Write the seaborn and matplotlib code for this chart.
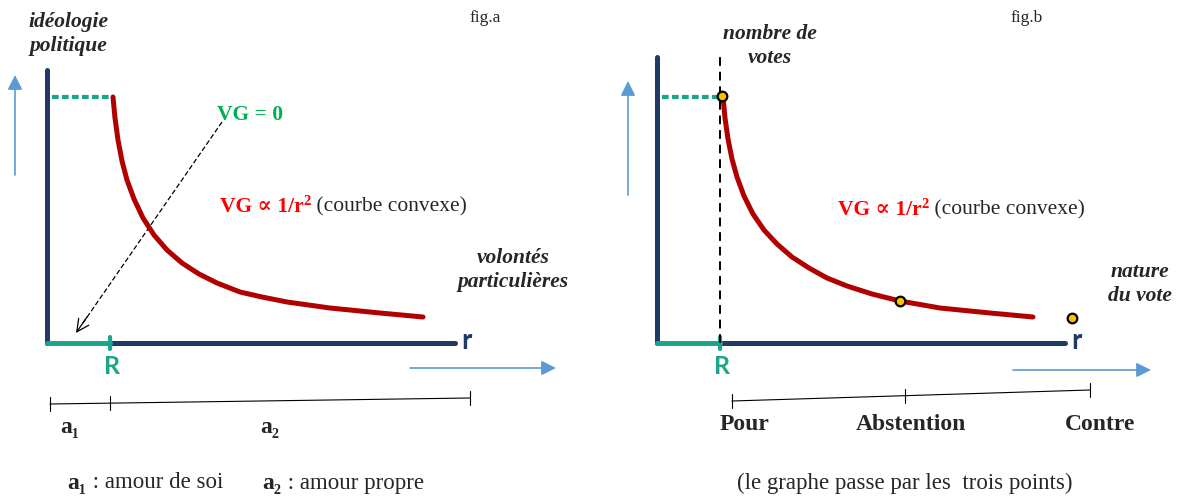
import matplotlib
matplotlib.use("Agg")
import matplotlib.pyplot as plt
import seaborn as sns
import pandas as pd

# curves VG ~ 1/r^2 (r = distance from y axis, vg = height above x axis)
curve_a_r = [66, 68, 71, 75, 80, 87, 96, 107, 120, 135, 152, 170, 193, 215, 240, 283, 333, 376]
curve_a_vg = [246, 225, 203, 182, 163, 144, 125, 108, 93, 80, 69, 60, 51, 46, 41, 35, 30, 26]
curve_b_r = [66, 68, 71, 75, 80, 87, 96, 107, 120, 135, 152, 170, 190, 215, 243, 283, 333, 376]
curve_b_vg = [246, 225, 204, 184, 166, 147, 129, 113, 99, 86, 75, 65, 57, 49, 42, 35, 30, 26]
r_R = 63          # position of R on the r axis
vg_top = 246      # level of the green dotted line

# fig.b: the three vote points
vote_labels = ["Pour", "Abstention", "Contre"]
vote_r = [65, 243, 415]
vote_vg = [247, 42, 25]
bracket_b = [75, 248, 433]

# fig.a: the a1 / a2 split
bracket_a = [3, 63, 423]

NAVY = "#1f3a64"
TEAL = "#1aa68a"
RED = "#b00000"
BLUE = "#5b9bd5"
GREEN = "#00b050"

sns.set_theme(style="white")
plt.rcParams["font.family"] = ["Liberation Serif", "DejaVu Serif"]

fig = plt.figure(figsize=(11.82, 4.96), dpi=100)
ax_a = fig.add_axes([0, 0, 0.5, 1])
ax_b = fig.add_axes([0.5, 0, 0.5, 1])
ax_a.set_xlim(-47, 544)
ax_b.set_xlim(-66, 525)
for ax in (ax_a, ax_b):
    ax.set_ylim(-153, 343)
    ax.axis("off")

serif = ["Liberation Serif", "DejaVu Serif"]
sans = ["Lato", "DejaVu Sans"]


def draw_frame(ax, ytop, cr, cvg):
    ax.plot([0, 0], [0, ytop], color=NAVY, lw=3.6, solid_capstyle="round", zorder=2)
    ax.plot([0, 408], [0, 0], color=NAVY, lw=3.6, solid_capstyle="round", zorder=2)
    ax.plot([0, r_R], [0, 0], color=TEAL, lw=3.6, solid_capstyle="round", zorder=3)
    ax.plot([r_R, r_R], [-6, 6], color=TEAL, lw=3, zorder=3)
    ax.plot([5, r_R], [vg_top, vg_top], color=TEAL, lw=3, ls=(0, (1.6, 0.8)), zorder=3)
    curve = pd.DataFrame({"r": cr, "vg": cvg})
    sns.lineplot(data=curve, x="r", y="vg", ax=ax, sort=False, color=RED, lw=3.6,
                 zorder=4, legend=False)
    ax.lines[-1].set_solid_joinstyle("round")
    ax.text(r_R + 2, -23, "R", color=TEAL, fontsize=18, fontweight="bold",
            family=sans, ha="center", va="center")
    ax.text(414, 2, "r", color=NAVY, fontsize=20, fontweight="bold",
            family=sans, ha="left", va="center")
    ax.set_xlabel("")
    ax.set_ylabel("")


def blue_arrow(ax, start, end):
    ax.annotate("", xy=end, xytext=start,
                arrowprops=dict(arrowstyle="-|>", color=BLUE, lw=1.2, mutation_scale=22,
                                shrinkA=0, shrinkB=0))


def bracket(ax, xs, y0, y1):
    ys = [y0 + (y1 - y0) * (x - xs[0]) / (xs[-1] - xs[0]) for x in xs]
    ax.plot([xs[0], xs[-1]], [ys[0], ys[-1]], color="black", lw=0.8)
    for x, y in zip(xs, ys):
        ax.plot([x, x], [y - 7, y + 7], color="black", lw=0.8)


def formula(ax, x, y):
    t = ax.text(x, y, "VG ∝ 1/r", color="#ff0000", fontsize=15.5, fontweight="bold",
                ha="left", va="center", family=serif)
    s = ax.annotate("2", xy=(1.0, 0.78), xycoords=t, color="#ff0000", fontsize=10.5,
                    fontweight="bold", ha="left", va="center", family=serif)
    ax.annotate(" (courbe convexe)", xy=(1, 0.5), xycoords=(s, t), fontsize=15.5,
                ha="left", va="center", family=serif)


# ---------------- fig.a ----------------
draw_frame(ax_a, 273, curve_a_r, curve_a_vg)
blue_arrow(ax_a, (-32, 168), (-32, 268))
blue_arrow(ax_a, (363, -25), (509, -25))
ax_a.plot([175, 36], [221, 20], color="black", lw=0.9, ls=(0, (4, 2)))
ax_a.annotate("", xy=(29, 10), xytext=(40, 26),
              arrowprops=dict(arrowstyle="->", color="black", lw=0.9,
                              mutation_scale=22, shrinkA=0, shrinkB=0))
bracket(ax_a, bracket_a, -61, -55)
ax_a.text(23, -85, "a₁", fontsize=17, fontweight="bold", ha="center", va="center", family=serif)
ax_a.text(223, -85, "a₂", fontsize=17, fontweight="bold", ha="center", va="center", family=serif)
ax_a.text(20, -140, "a₁", fontsize=17, fontweight="bold", ha="left", va="center", family=serif)
ax_a.text(40, -140, " : amour de soi", fontsize=16.5, ha="left", va="center", family=serif)
ax_a.text(215, -140, "a₂", fontsize=17, fontweight="bold", ha="left", va="center", family=serif)
ax_a.text(235, -140, " : amour propre", fontsize=16.5, ha="left", va="center", family=serif)
ax_a.text(21, 309, "idéologie\npolitique", fontsize=15.5, fontweight="bold", style="italic",
          ha="center", va="center", linespacing=1.25, family=serif)
ax_a.text(438, 325, "fig.a", fontsize=12.5, ha="center", va="center", family=serif)
ax_a.text(203, 228, "VG = 0", color=GREEN, fontsize=15.5, fontweight="bold",
          ha="center", va="center", family=serif)
formula(ax_a, 173, 136)
ax_a.text(466, 73, "volontés\nparticulières", fontsize=15.5, fontweight="bold", style="italic",
          ha="center", va="center", linespacing=1.25, family=serif)

# ---------------- fig.b ----------------
draw_frame(ax_b, 286, curve_b_r, curve_b_vg)
ax_b.plot([r_R, r_R], [0, 291], color="black", lw=1.4, ls=(0, (4.5, 3)), zorder=3)
votes = pd.DataFrame({"vote": vote_labels, "r": vote_r, "vg": vote_vg})
sns.scatterplot(data=votes, x="r", y="vg", ax=ax_b, color="#ffc000", edgecolor="black",
                linewidth=1.6, s=48, zorder=6, legend=False)
ax_b.set_xlabel("")
ax_b.set_ylabel("")
blue_arrow(ax_b, (-29, 148), (-29, 262))
blue_arrow(ax_b, (356, -27), (494, -27))
bracket(ax_b, bracket_b, -58, -47)
for lab, x in zip(vote_labels, [88, 254, 443]):
    ax_b.text(x, -82, lab, fontsize=17, fontweight="bold", ha="center", va="center", family=serif)
ax_b.text(248, -140, "(le graphe passe par les  trois points)", fontsize=16.5,
          ha="center", va="center", family=serif)
ax_b.text(113, 297, "nombre de\nvotes", fontsize=15.5, fontweight="bold", style="italic",
          ha="center", va="center", linespacing=1.25, family=serif)
ax_b.text(370, 325, "fig.b", fontsize=12.5, ha="center", va="center", family=serif)
formula(ax_b, 181, 133)
ax_b.text(483, 59, "nature\ndu vote", fontsize=15.5, fontweight="bold", style="italic",
          ha="center", va="center", linespacing=1.25, family=serif)

fig.savefig("out.png", dpi=100)
